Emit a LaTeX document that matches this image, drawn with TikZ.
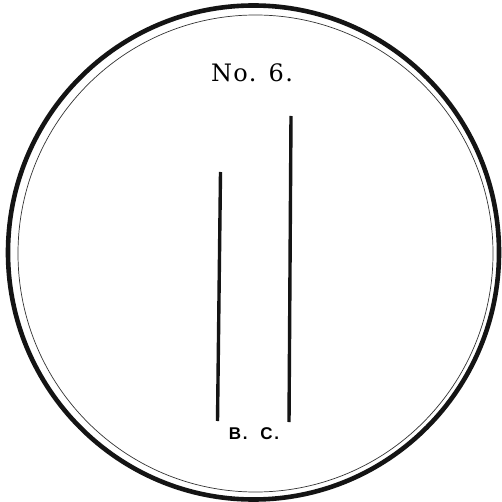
\documentclass[tikz,border=0pt]{standalone}
\usepackage{fontspec}
\setmainfont{DejaVu Serif}
\newfontfamily\bcfont[LetterSpace=10]{Liberation Sans Bold}
\newfontfamily\nofont[LetterSpace=6]{DejaVu Serif}
\tikzset{
  rim/.style={line width=4.6pt, draw=black!92},
  innerrim/.style={line width=0.7pt, draw=black!80},
  bar/.style={line width=3.4pt, draw=black!92},
  lbl/.style={inner sep=0pt, anchor=center}
}
\begin{document}
\begin{tikzpicture}[x=1pt,y=-1pt]
\useasboundingbox (0,0) rectangle (501,502);
\fill[white] (0,0) rectangle (501,502);
\draw[rim] (253.5,252.5) ellipse [x radius=245.5, y radius=247];
\draw[innerrim] (255.5,253.5) ellipse [x radius=237.5, y radius=238.5];
\node[lbl] (title) at (252,73) {\nofont\fontsize{24}{28}\selectfont No. 6.};
\coordinate (lt) at (220.5,172);
\coordinate (lb) at (217.5,421);
\coordinate (rt) at (291,116);
\coordinate (rb) at (289,422);
\draw[bar] (lt) -- (lb);
\draw[bar] (rt) -- (rb);
\node[lbl] (bc) at (254,434) {\bcfont\fontsize{17}{20}\selectfont B.\ \ C.};
\end{tikzpicture}
\end{document}
